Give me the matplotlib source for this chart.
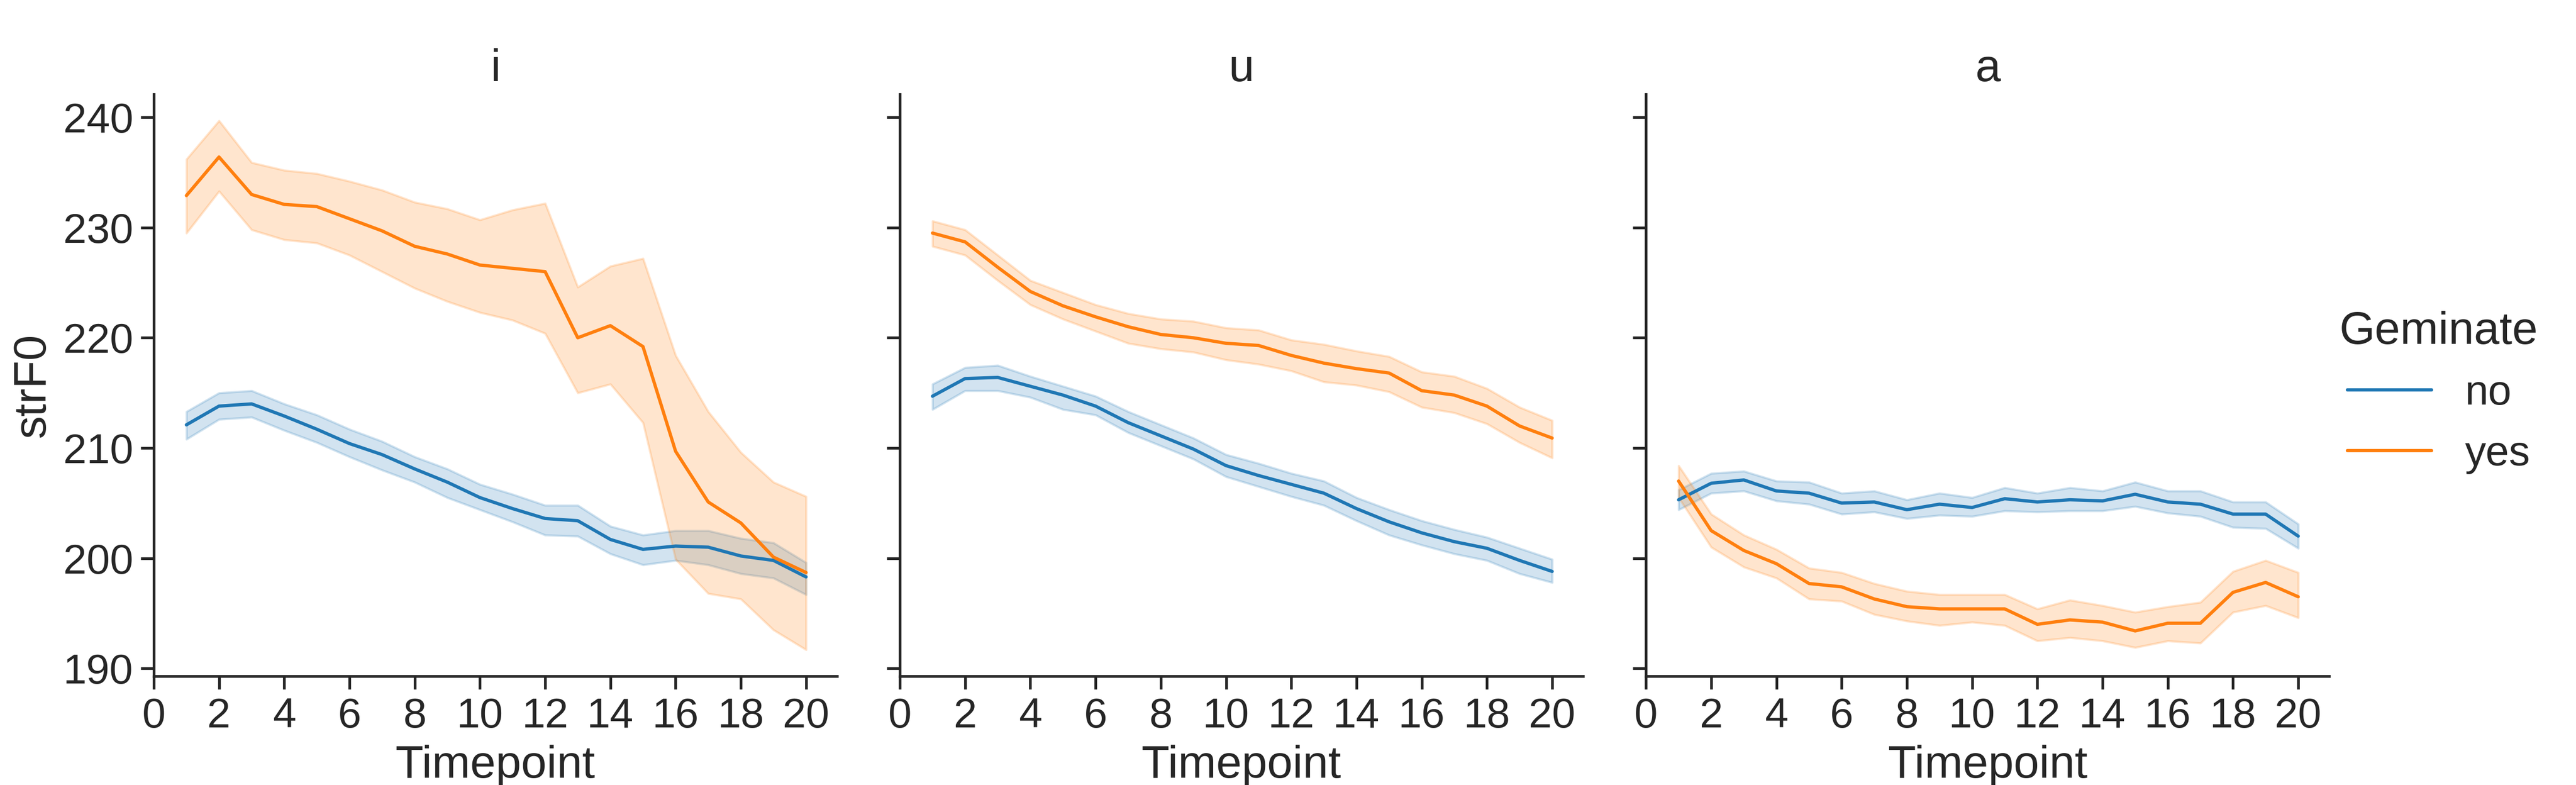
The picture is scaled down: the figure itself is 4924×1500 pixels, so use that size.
import numpy as np
import matplotlib
matplotlib.use("Agg")
import matplotlib.pyplot as plt
import seaborn as sns

sns.set_theme(style="ticks", font_scale=1.75)
plt.rcParams['font.family'] = ['Liberation Sans', 'DejaVu Sans']

timepoint = np.arange(1, 21)
vowels = ["i", "u", "a"]
groups = ["no", "yes"]
colors = {"no": "#1f77b4", "yes": "#ff7f0e"}

# mean strF0 and 95% CI bounds
i_no_mean = [212.1, 213.8, 214.0, 212.9, 211.7, 210.4, 209.4, 208.1, 206.9, 205.5,
             204.5, 203.6, 203.4, 201.7, 200.8, 201.1, 201.0, 200.2, 199.8, 198.3]
i_no_lo = [210.8, 212.6, 212.8, 211.6, 210.5, 209.2, 208.0, 206.9, 205.5, 204.4,
           203.3, 202.1, 202.0, 200.4, 199.4, 199.8, 199.4, 198.6, 198.2, 196.7]
i_no_hi = [213.3, 215.0, 215.2, 214.0, 213.0, 211.7, 210.6, 209.2, 208.1, 206.7,
           205.8, 204.8, 204.8, 202.9, 202.1, 202.5, 202.5, 201.8, 201.4, 199.6]

i_yes_mean = [232.9, 236.4, 233.0, 232.1, 231.9, 230.8, 229.7, 228.3, 227.6, 226.6,
              226.3, 226.0, 220.0, 221.1, 219.2, 209.7, 205.1, 203.2, 200.1, 198.7]
i_yes_lo = [229.5, 233.3, 229.8, 228.9, 228.6, 227.5, 226.0, 224.5, 223.3, 222.3,
            221.6, 220.4, 215.0, 215.8, 212.3, 199.9, 196.8, 196.3, 193.5, 191.7]
i_yes_hi = [236.2, 239.7, 235.9, 235.2, 234.9, 234.2, 233.4, 232.3, 231.7, 230.7,
            231.6, 232.2, 224.6, 226.5, 227.2, 218.4, 213.3, 209.6, 206.9, 205.6]

u_no_mean = [214.7, 216.3, 216.4, 215.6, 214.8, 213.8, 212.3, 211.1, 209.9, 208.4,
             207.5, 206.7, 205.9, 204.5, 203.3, 202.3, 201.5, 200.9, 199.8, 198.8]
u_no_lo = [213.5, 215.2, 215.2, 214.6, 213.5, 213.0, 211.4, 210.2, 209.0, 207.4,
           206.5, 205.6, 204.8, 203.4, 202.1, 201.2, 200.4, 199.8, 198.6, 197.8]
u_no_hi = [215.8, 217.3, 217.5, 216.5, 215.6, 214.7, 213.3, 212.1, 210.9, 209.4,
           208.6, 207.7, 207.0, 205.5, 204.4, 203.4, 202.6, 201.9, 200.9, 199.9]

u_yes_mean = [229.5, 228.7, 226.4, 224.2, 222.9, 221.9, 221.0, 220.3, 220.0, 219.5,
              219.3, 218.4, 217.7, 217.2, 216.8, 215.2, 214.8, 213.8, 212.0, 210.9]
u_yes_lo = [228.3, 227.5, 225.2, 223.0, 221.7, 220.6, 219.5, 219.0, 218.7, 218.0,
            217.6, 217.0, 216.0, 215.7, 215.1, 213.7, 213.2, 212.2, 210.5, 209.1]
u_yes_hi = [230.6, 229.8, 227.5, 225.2, 224.1, 223.0, 222.2, 221.7, 221.5, 220.9,
            220.7, 219.8, 219.4, 218.8, 218.3, 216.9, 216.5, 215.4, 213.7, 212.5]

a_no_mean = [205.3, 206.8, 207.1, 206.1, 205.9, 205.0, 205.1, 204.4, 204.9, 204.6,
             205.4, 205.1, 205.3, 205.2, 205.8, 205.1, 204.9, 204.0, 204.0, 202.0]
a_no_lo = [204.4, 205.9, 206.1, 205.2, 204.9, 204.0, 204.2, 203.6, 203.9, 203.8,
           204.3, 204.2, 204.3, 204.3, 204.7, 204.1, 203.8, 202.8, 202.7, 200.9]
a_no_hi = [206.2, 207.7, 207.9, 207.0, 206.9, 205.9, 206.1, 205.3, 205.9, 205.5,
           206.4, 205.9, 206.4, 206.1, 206.9, 206.1, 206.1, 205.1, 205.1, 203.1]

a_yes_mean = [207.0, 202.5, 200.7, 199.5, 197.7, 197.4, 196.3, 195.6, 195.4, 195.4,
              195.4, 194.0, 194.4, 194.2, 193.4, 194.1, 194.1, 196.9, 197.8, 196.5]
a_yes_lo = [205.5, 201.0, 199.2, 198.2, 196.3, 196.1, 194.9, 194.3, 193.9, 194.2,
            193.9, 192.5, 192.8, 192.5, 191.9, 192.5, 192.3, 195.1, 195.7, 194.6]
a_yes_hi = [208.4, 204.0, 202.1, 200.8, 199.1, 198.7, 197.7, 197.0, 196.7, 196.7,
            196.7, 195.4, 196.2, 195.7, 195.1, 195.6, 196.0, 198.8, 199.8, 198.7]

series = {
    "i": {"no": (i_no_mean, i_no_lo, i_no_hi), "yes": (i_yes_mean, i_yes_lo, i_yes_hi)},
    "u": {"no": (u_no_mean, u_no_lo, u_no_hi), "yes": (u_yes_mean, u_yes_lo, u_yes_hi)},
    "a": {"no": (a_no_mean, a_no_lo, a_no_hi), "yes": (a_yes_mean, a_yes_lo, a_yes_hi)},
}

fig, axes = plt.subplots(1, 3, figsize=(4924 / 300, 5), dpi=300, sharey=True)
fig.subplots_adjust(left=0.0597, right=0.9042, top=0.88, bottom=0.1387, wspace=0.092)

handles = []
for ax, v in zip(axes, vowels):
    for g in groups:
        m, lo, hi = series[v][g]
        ln, = ax.plot(timepoint, m, color=colors[g], lw=1.5, label=g)
        ax.fill_between(timepoint, lo, hi, color=colors[g], alpha=0.2)
        if v == "i":
            handles.append(ln)
    ax.set_title(v)
    ax.set_xlabel("Timepoint")
    ax.set_xticks(np.arange(0, 21, 2))
    sns.despine(ax=ax)

axes[0].set_ylabel("strF0")
axes[0].set_yticks([190, 200, 210, 220, 230, 240])

fig.legend(handles, groups, title="Geminate", title_fontsize=21, loc="center right",
           bbox_to_anchor=(1.0, 0.5), frameon=False)

fig.savefig("out.png", dpi=300)
